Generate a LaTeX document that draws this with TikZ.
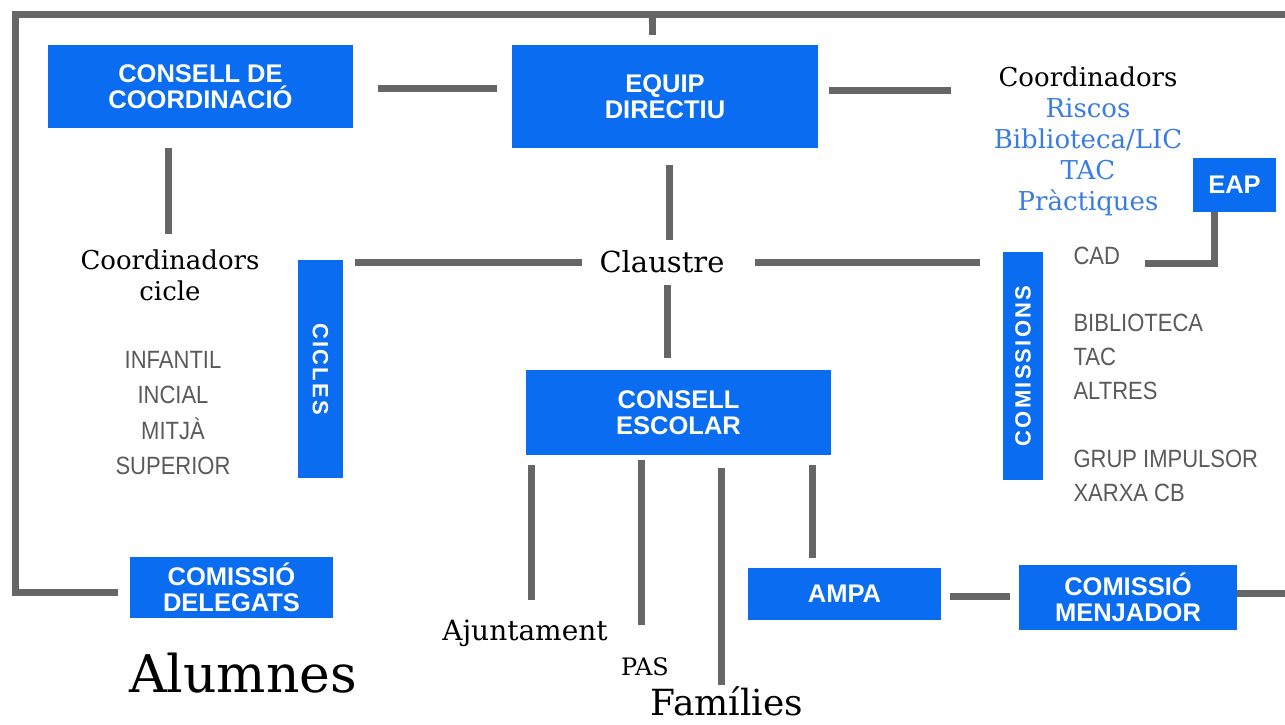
\documentclass[tikz,border=0pt]{standalone}
\usepackage{fontspec}
\setmainfont{DejaVu Serif}
\setsansfont{Liberation Sans}
\newfontfamily\condsans[FakeStretch=0.88]{Liberation Sans}
\usetikzlibrary{calc}
\definecolor{boxblue}{RGB}{10,108,240}
\definecolor{linegray}{RGB}{102,102,102}
\definecolor{textblue}{RGB}{58,125,225}
\definecolor{listgray}{RGB}{90,90,90}

\begin{document}
\begin{tikzpicture}[x=1pt,y=-1pt,
  bluebox/.style={fill=boxblue,text=white,align=center,inner sep=0pt,
    font=\sffamily\bfseries\fontsize{25.5}{26}\selectfont},
  vbox/.style={bluebox,font=\sffamily\bfseries\fontsize{22}{24}\selectfont\addfontfeature{LetterSpace=10}},
  conn/.style={draw=linegray,line width=7pt},
  serif/.style={align=center,font=\fontsize{26}{31}\selectfont},
  list/.style={text=listgray,font=\condsans\fontsize{25}{34}\selectfont}]
  \useasboundingbox (0,0) rectangle (1285,725);

  \node[bluebox,minimum width=305pt,minimum height=83pt] (cdc) at (200.5,86.5) {CONSELL DE\\COORDINACIÓ};
  \node[bluebox,minimum width=306pt,minimum height=103pt] (ed) at (665,96.5) {EQUIP\\DIRECTIU};
  \node[bluebox,minimum width=83pt,minimum height=54pt] (eap) at (1234.5,185) {EAP};
  \node[vbox,rotate=-90,minimum width=218pt,minimum height=45pt] (cicles) at (320.5,369) {CICLES};
  \node[vbox,rotate=90,minimum width=228pt,minimum height=40pt] (comissions) at (1023,366) {COMISSIONS};
  \node[bluebox,minimum width=305pt,minimum height=85pt] (ce) at (678.5,412.5) {CONSELL\\ESCOLAR};
  \node[bluebox,minimum width=203pt,minimum height=61pt] (cdel) at (231.5,587.5) {COMISSIÓ\\DELEGATS};
  \node[bluebox,minimum width=193pt,minimum height=52pt] (ampa) at (844.5,594) {AMPA};
  \node[bluebox,minimum width=218pt,minimum height=65pt] (cmen) at (1128,597.5) {COMISSIÓ\\MENJADOR};

  \node[serif] (coordr) at (1088,141) {Coordinadors\\\textcolor{textblue}{Riscos}\\\textcolor{textblue}{Biblioteca/LIC}\\\textcolor{textblue}{TAC}\\\textcolor{textblue}{Pràctiques}};
  \node[serif,font=\fontsize{29}{31}\selectfont] (claustre) at (662,262) {Claustre};
  \node[serif] (coordc) at (170,275) {Coordinadors\\cicle};
  \node[list,align=center,font=\condsans\fontsize{25}{35.5}\selectfont] (nivells) at (173,413) {INFANTIL\\INCIAL\\MITJÀ\\SUPERIOR};
  \node[list,anchor=west] (cad) at (1070,256) {CAD};
  \node[list,anchor=west,align=left] (llista) at (1070,407.5) {BIBLIOTECA\\TAC\\ALTRES\\[34pt]GRUP IMPULSOR\\XARXA CB};
  \node[serif,font=\fontsize{28}{31}\selectfont] (ajunt) at (525,633) {Ajuntament};
  \node[serif,font=\fontsize{24}{31}\selectfont] (pas) at (645,667) {PAS};
  \node[serif,font=\fontsize{36}{40}\selectfont] (fam) at (727,701) {Famílies};
  \node[serif,font=\fontsize{52}{56}\selectfont] (alumnes) at (243,673) {Alumnes};

  \coordinate (nw) at (15,15);
  \coordinate (ne) at (1285,15);
  \draw[conn] ($(cdel.west)+(-12,4.5)$) -| (nw) -- (ne);
  \draw[conn] ($(nw -| ed.north)+(-13,0)$) -- ($(ed.north)+(-13,-10)$);
  \draw[conn] ($(cdc.east)+(25,1.5)$) -- ($(cdc.east -| ed.west)+(-15,1.5)$);
  \draw[conn] ($(ed.east)+(11,-6)$) -- ($(ed.east -| coordr.west)+(-39,-6)$);
  \draw[conn] ($(cdc.south)+(-32,20)$) -- ($(coordc.north -| cdc.south)+(-32,-12)$);
  \draw[conn] ($(ed.south)+(4,17)$) -- ($(claustre.center)+(7,-22)$);
  \draw[conn] ($(claustre.center)+(5,23)$) -- ($(ce.north)+(-11.5,-12)$);
  \draw[conn] ($(claustre.center)+(-80,0)$) -- ($(claustre.center -| cicles.center)+(34.5,0)$);
  \draw[conn] ($(claustre.center)+(93,0)$) -- ($(claustre.center -| comissions.center)+(-43,0)$);
  \draw[conn] ($(cad.east)+(21,7)$) -| ($(eap.south)+(-20,0)$);
  \draw[conn] ($(ce.south -| ajunt.center)+(6,10)$) -- ($(ajunt.center)+(6,-33)$);
  \draw[conn] ($(ce.south -| pas.center)+(-4,5)$) -- ($(pas.center)+(-4,-42)$);
  \draw[conn] ($(ce.south -| fam.center)+(-6,13)$) -- ($(fam.center)+(-6,-16)$);
  \draw[conn] ($(ce.south -| ampa.north)+(-32.5,10)$) -- ($(ampa.north)+(-32.5,-10)$);
  \draw[conn] ($(ampa.east)+(9,2)$) -- ($(ampa.east -| cmen.west)+(-9,2)$);
  \draw[conn] ($(cmen.east)+(0,-4.5)$) -- ($(cmen.east -| ne)+(0,-4.5)$);
\end{tikzpicture}
\end{document}
